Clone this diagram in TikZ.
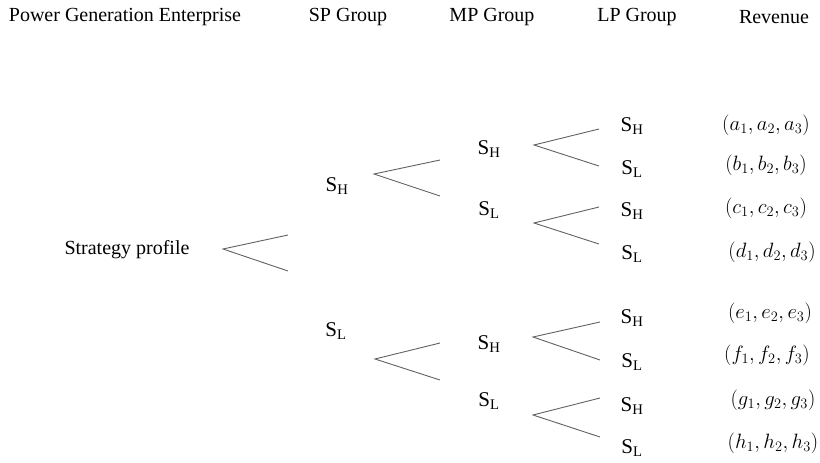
\documentclass[tikz,border=0pt]{standalone}
\usepackage{fontspec}
\setmainfont{Liberation Serif}
\begin{document}
\begin{tikzpicture}[x=1pt,y=-1pt,
  head/.style={font=\fontsize{20}{23}\selectfont, inner sep=0pt},
  lbl/.style={font=\fontsize{21}{24}\selectfont, inner sep=0pt},
  pay/.style={font=\fontsize{22.5}{25}\selectfont, inner sep=0pt},
  fork/.style={draw=black!62, line width=0.9pt}]
\useasboundingbox (0,0) rectangle (820,463);

% column headings
\node[head] (hPGE) at (125,17) {Power Generation Enterprise};
\node[head] (hSP)  at (348,17) {SP Group};
\node[head] (hMP)  at (492,17) {MP Group};
\node[head] (hLP)  at (637,17) {LP Group};
\node[head] (hRev) at (774,17) {Revenue};

% root
\node[head] (root) at (127,250) {Strategy profile};

% SP group choices
\node[lbl] (spH) at (337,186) {$\mathrm{S}_{\mathrm{H}}$};
\node[lbl] (spL) at (336,331) {$\mathrm{S}_{\mathrm{L}}$};

% MP group choices
\node[lbl] (mpHH) at (489,149) {$\mathrm{S}_{\mathrm{H}}$};
\node[lbl] (mpHL) at (489,210) {$\mathrm{S}_{\mathrm{L}}$};
\node[lbl] (mpLH) at (489,344) {$\mathrm{S}_{\mathrm{H}}$};
\node[lbl] (mpLL) at (489,401) {$\mathrm{S}_{\mathrm{L}}$};

% LP group choices
\node[lbl] (lp1) at (632,126) {$\mathrm{S}_{\mathrm{H}}$};
\node[lbl] (lp2) at (632,169) {$\mathrm{S}_{\mathrm{L}}$};
\node[lbl] (lp3) at (632,211) {$\mathrm{S}_{\mathrm{H}}$};
\node[lbl] (lp4) at (632,254) {$\mathrm{S}_{\mathrm{L}}$};
\node[lbl] (lp5) at (632,318) {$\mathrm{S}_{\mathrm{H}}$};
\node[lbl] (lp6) at (632,362) {$\mathrm{S}_{\mathrm{L}}$};
\node[lbl] (lp7) at (632,406) {$\mathrm{S}_{\mathrm{H}}$};
\node[lbl] (lp8) at (632,448) {$\mathrm{S}_{\mathrm{L}}$};

% payoffs
\node[pay] (r1) at (766,125) {$(a_1, a_2, a_3)$};
\node[pay] (r2) at (766,165) {$(b_1, b_2, b_3)$};
\node[pay] (r3) at (766,208) {$(c_1, c_2, c_3)$};
\node[pay] (r4) at (772,252) {$(d_1, d_2, d_3)$};
\node[pay] (r5) at (770,313) {$(e_1, e_2, e_3)$};
\node[pay] (r6) at (767,355) {$(f_1, f_2, f_3)$};
\node[pay] (r7) at (773,400) {$(g_1, g_2, g_3)$};
\node[pay] (r8) at (773,443) {$(h_1, h_2, h_3)$};

% fork apexes and open ends
\coordinate (f0) at (223,249);
\coordinate (f0a) at (288,235);
\coordinate (f0b) at (288,271);

\coordinate (f1) at (374,174);
\coordinate (f1a) at (440,160);
\coordinate (f1b) at (440,196);

\coordinate (f2) at (375,359);
\coordinate (f2a) at (440,343);
\coordinate (f2b) at (440,380);

\coordinate (f3) at (534,145);
\coordinate (f3a) at (599,129);
\coordinate (f3b) at (599,166);

\coordinate (f4) at (534,223);
\coordinate (f4a) at (599,207);
\coordinate (f4b) at (599,244);

\coordinate (f5) at (533,337);
\coordinate (f5a) at (600,322);
\coordinate (f5b) at (600,360);

\coordinate (f6) at (533,415);
\coordinate (f6a) at (600,398);
\coordinate (f6b) at (600,437);

\foreach \f in {f0,f1,f2,f3,f4,f5,f6}
  \draw[fork] (\f a) -- (\f) -- (\f b);
\end{tikzpicture}
\end{document}
